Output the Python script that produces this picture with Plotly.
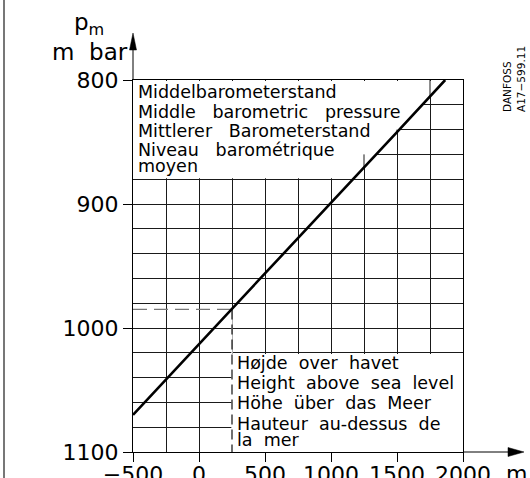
import numpy as np
import plotly.graph_objects as go

# ---------------- data ----------------
elevation_m = [-500, 0, 250, 500, 1000, 1500, 1865]
pressure_mbar = [1070, 1013, 985, 956, 899, 842, 800]

x_tick_vals = [-500, 0, 500, 1000, 1500, 2000]
y_tick_vals = [800, 900, 1000, 1100]
x_grid_step = 250
y_grid_step = 20

ref_elevation = 250      # dashed read-off example
ref_pressure = 985

top_box_lines = ["Middelbarometerstand", "Middle barometric pressure",
                 "Mittlerer Barometerstand", "Niveau barométrique", "moyen"]
bottom_box_lines = ["Højde over havet", "Height above sea level",
                    "Höhe über das Meer", "Hauteur au-dessus de", "la mer"]

# ---------------- layout helpers ----------------
W, H = 530, 478
L, R, T, B = 133, 463, 80, 452          # plot area in pixels
X_RANGE = [-500, 2000]
Y_RANGE = [1100, 800]
TOP_BAND = (800, 880)
BOTTOM_BAND = (1020, 1100)
FONT = "DejaVu Sans"


def px(x):
    return (x - L) / (R - L)


def py(y):
    return (B - y) / (B - T)


def x_at(p):
    return float(np.interp(p, pressure_mbar[::-1], elevation_m[::-1]))


def p_at(x):
    return float(np.interp(x, elevation_m, pressure_mbar))


def sp(s, n):
    return s.replace(" ", "\u00a0" * n)


def ppath(points):
    return "M " + " L ".join(f"{px(a)},{py(b)}" for a, b in points) + " Z"


fig = go.Figure()

# dashed read-off lines
fig.add_trace(go.Scatter(x=[X_RANGE[0], ref_elevation], y=[ref_pressure, ref_pressure],
                         mode="lines", line=dict(color="#777", width=1.2, dash="14px,7px"),
                         hoverinfo="skip", showlegend=False))
fig.add_trace(go.Scatter(x=[ref_elevation, ref_elevation], y=[ref_pressure, Y_RANGE[0]],
                         mode="lines", line=dict(color="#111", width=1.2, dash="10px,5px"),
                         hoverinfo="skip", showlegend=False))
# main line
fig.add_trace(go.Scatter(x=elevation_m, y=pressure_mbar, mode="lines",
                         line=dict(color="black", width=2.6),
                         hoverinfo="skip", showlegend=False))

shapes = []
# white text area in the top band (left of the line)
e = 0.8
t0, t1 = TOP_BAND[0] + e, TOP_BAND[1] - e
pts = [(X_RANGE[0], t0), (x_at(t0), t0)]
pts += sorted([(ex, pr) for ex, pr in zip(elevation_m, pressure_mbar) if t0 < pr < t1],
              key=lambda q: q[1])
pts += [(x_at(t1), t1), (X_RANGE[0], t1)]
path = "M " + " L ".join(f"{a},{b}" for a, b in pts) + " Z"
shapes.append(dict(type="path", path=path, xref="x", yref="y", fillcolor="white",
                   line=dict(width=0), layer="between"))
# vertical grid pieces that remain visible above the line inside the top band
for xk in np.arange(X_RANGE[0] + x_grid_step, X_RANGE[1], x_grid_step):
    pc = p_at(xk)
    row_top = TOP_BAND[0] + np.floor((pc - TOP_BAND[0]) / y_grid_step) * y_grid_step
    if row_top < TOP_BAND[1] and pc > row_top:
        shapes.append(dict(type="line", xref="x", yref="y", x0=xk, x1=xk,
                           y0=row_top, y1=min(pc, TOP_BAND[1]),
                           line=dict(color="#1a1a1a", width=1), layer="between"))
# white text area in the bottom band
shapes.append(dict(type="rect", xref="x", yref="y", x0=ref_elevation - 5, x1=X_RANGE[1],
                   y0=BOTTOM_BAND[0] + 1, y1=BOTTOM_BAND[1], fillcolor="white",
                   line=dict(width=0), layer="between"))
shapes.append(dict(type="rect", xref="x", yref="y", x0=ref_elevation - 5, x1=ref_elevation + 5,
                   y0=ref_pressure, y1=BOTTOM_BAND[0] + 1, fillcolor="white",
                   line=dict(width=0), layer="between"))
# page border at left
shapes.append(dict(type="line", xref="paper", yref="paper", x0=px(4), x1=px(4),
                   y0=py(H + 2), y1=py(-2), line=dict(color="#777", width=2)))
# axis arrows (extensions of the axis lines)
shapes.append(dict(type="line", xref="paper", yref="paper", x0=0, x1=0,
                   y0=1, y1=py(46), line=dict(color="black", width=1)))
shapes.append(dict(type="path", xref="paper", yref="paper",
                   path=ppath([(L, 33), (L - 3.5, 50), (L + 3.5, 50)]),
                   fillcolor="black", line=dict(color="black", width=0.5)))
shapes.append(dict(type="line", xref="paper", yref="paper", x0=1, x1=px(512),
                   y0=0, y1=0, line=dict(color="black", width=1)))
shapes.append(dict(type="path", xref="paper", yref="paper",
                   path=ppath([(524, B), (508, B - 4.5), (508, B + 4.5)]),
                   fillcolor="black", line=dict(color="black", width=0.5)))

ann = []
for txt, yy in zip(top_box_lines, [92, 112, 131, 150, 166]):
    ann.append(dict(x=px(136), y=py(yy), xref="paper", yref="paper", text=sp(txt, 3),
                    showarrow=False, xanchor="left", yanchor="middle",
                    font=dict(family=FONT, size=17.5, color="black")))
for txt, yy in zip(bottom_box_lines, [363, 383, 403, 424, 440]):
    ann.append(dict(x=px(235), y=py(yy), xref="paper", yref="paper", text=sp(txt, 2),
                    showarrow=False, xanchor="left", yanchor="middle",
                    font=dict(family=FONT, size=17.5, color="black")))
# axis titles
ann.append(dict(x=px(72), y=py(24), xref="paper", yref="paper", text="p<sub>m</sub>",
                showarrow=False, xanchor="left", yanchor="middle",
                font=dict(family=FONT, size=23, color="black")))
ann.append(dict(x=px(130), y=py(52), xref="paper", yref="paper", text="m\u00a0\u00a0bar",
                showarrow=False, xanchor="right", yanchor="middle",
                font=dict(family=FONT, size=23, color="black")))
ann.append(dict(x=px(516), y=py(473), xref="paper", yref="paper", text="m",
                showarrow=False, xanchor="center", yanchor="middle",
                font=dict(family=FONT, size=22, color="black")))
# drawing id
ann.append(dict(x=px(514), y=py(114), xref="paper", yref="paper",
                text="DANFOSS<br>A17\u2212599.11", textangle=-90,
                showarrow=False, xanchor="center", yanchor="bottom", align="left",
                font=dict(family=FONT, size=10.5, color="black")))

axis_common = dict(showline=True, linecolor="black", linewidth=1, mirror=True,
                   ticks="outside", ticklen=9, tickcolor="black", tickwidth=1,
                   showgrid=True, gridcolor="#1a1a1a", gridwidth=1, zeroline=False,
                   tickfont=dict(family=FONT, size=22, color="black"), automargin=False)

fig.update_layout(
    width=W, height=H,
    margin=dict(l=L, r=W - R, t=T, b=H - B, pad=0),
    paper_bgcolor="white", plot_bgcolor="white",
    xaxis=dict(range=X_RANGE, tickmode="array", tickvals=x_tick_vals,
               ticklabelstandoff=-6,
               minor=dict(dtick=x_grid_step, tick0=X_RANGE[0], showgrid=True,
                          gridcolor="#1a1a1a", gridwidth=1, ticks=""),
               **axis_common),
    yaxis=dict(range=Y_RANGE, tickmode="array", tickvals=y_tick_vals,
               minor=dict(dtick=y_grid_step, tick0=Y_RANGE[1], showgrid=True,
                          gridcolor="#1a1a1a", gridwidth=1, ticks=""),
               **axis_common),
    shapes=shapes, annotations=ann, showlegend=False,
)

fig.write_html("out.html", config={"displayModeBar": False},
               post_script="document.body.style.margin='0';document.body.style.overflow='hidden';")
